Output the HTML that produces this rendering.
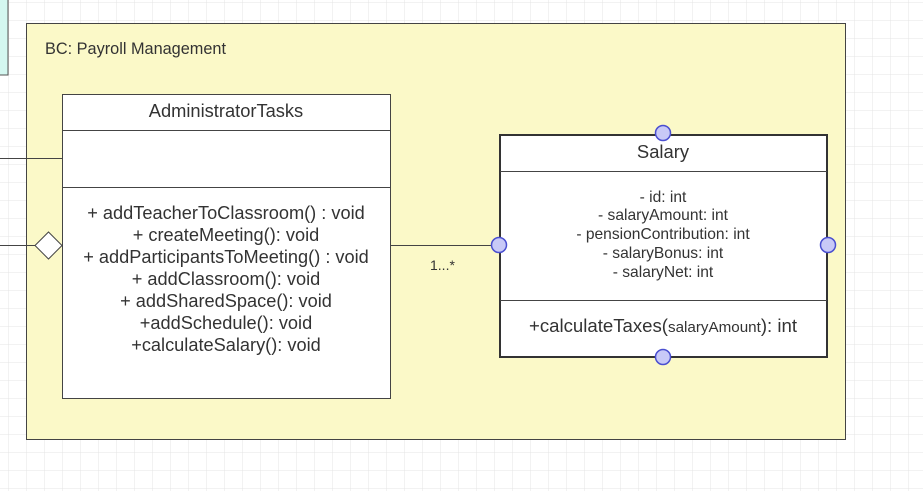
<!DOCTYPE html>
<html><head><style>
html,body{margin:0;padding:0;width:923px;height:491px;overflow:hidden;background:#fff;font-family:"Liberation Sans",sans-serif;}
</style></head><body>
<svg width="923" height="491" viewBox="0 0 923 491" xmlns="http://www.w3.org/2000/svg" font-family="Liberation Sans, sans-serif">
<defs>
<pattern id="g" x="9" y="3" width="18" height="18" patternUnits="userSpaceOnUse">
<path d="M18 0V18M0 18H18" stroke="#e4e4e4" stroke-width="1" fill="none"/>
</pattern>
</defs>
<rect width="923" height="491" fill="url(#g)"/>
<rect x="-2" y="-2" width="10" height="77" fill="#d4f7f0" stroke="#555"/>
<rect x="26.5" y="23.5" width="819" height="416" fill="#fbf9c8" stroke="#444"/>
<text x="45" y="54" font-size="16.3" fill="#333">BC: Payroll Management</text>
<line x1="0" y1="158.5" x2="62" y2="158.5" stroke="#444"/>
<line x1="0" y1="245.5" x2="36" y2="245.5" stroke="#444"/>
<polygon points="35,245.5 48.5,232 62,245.5 48.5,259" fill="#fff" stroke="#444"/>
<rect x="62.5" y="94.5" width="328" height="304" fill="#fff" stroke="#444"/>
<line x1="62" y1="130.5" x2="390" y2="130.5" stroke="#444"/>
<line x1="62" y1="187.5" x2="390" y2="187.5" stroke="#444"/>
<text x="226" y="117" font-size="18.3" fill="#333" text-anchor="middle">AdministratorTasks</text>
<g font-size="18.2" fill="#333" text-anchor="middle">
<text x="226" y="219">+ addTeacherToClassroom() : void</text>
<text x="226" y="241">+ createMeeting(): void</text>
<text x="226" y="263">+ addParticipantsToMeeting() : void</text>
<text x="226" y="285">+ addClassroom(): void</text>
<text x="226" y="307">+ addSharedSpace(): void</text>
<text x="226" y="329">+addSchedule(): void</text>
<text x="226" y="351">+calculateSalary(): void</text>
</g>
<line x1="390" y1="245.5" x2="492" y2="245.5" stroke="#444"/>
<text x="430" y="270" font-size="14" fill="#333">1...*</text>
<rect x="500" y="135" width="327" height="222" fill="#fff" stroke="#333" stroke-width="2"/>
<line x1="500" y1="171.5" x2="827" y2="171.5" stroke="#444"/>
<line x1="500" y1="300.5" x2="827" y2="300.5" stroke="#444"/>
<text x="663" y="158" font-size="18.4" fill="#333" text-anchor="middle">Salary</text>
<g font-size="15.6" fill="#333" text-anchor="middle">
<text x="663" y="202">- id: int</text>
<text x="663" y="220">- salaryAmount: int</text>
<text x="663" y="239">- pensionContribution: int</text>
<text x="663" y="258">- salaryBonus: int</text>
<text x="663" y="277">- salaryNet: int</text>
</g>
<text x="663" y="332" font-size="18.6" fill="#333" text-anchor="middle">+calculateTaxes(<tspan font-size="15.2">salaryAmount</tspan>): int</text>
<g fill="#c8c9f7" stroke="#4a4fd0" stroke-width="1.5">
<circle cx="663" cy="133" r="7.5"/>
<circle cx="499" cy="245" r="7.5"/>
<circle cx="828" cy="245" r="7.5"/>
<circle cx="663" cy="357" r="7.5"/>
</g>
</svg>
</body></html>
